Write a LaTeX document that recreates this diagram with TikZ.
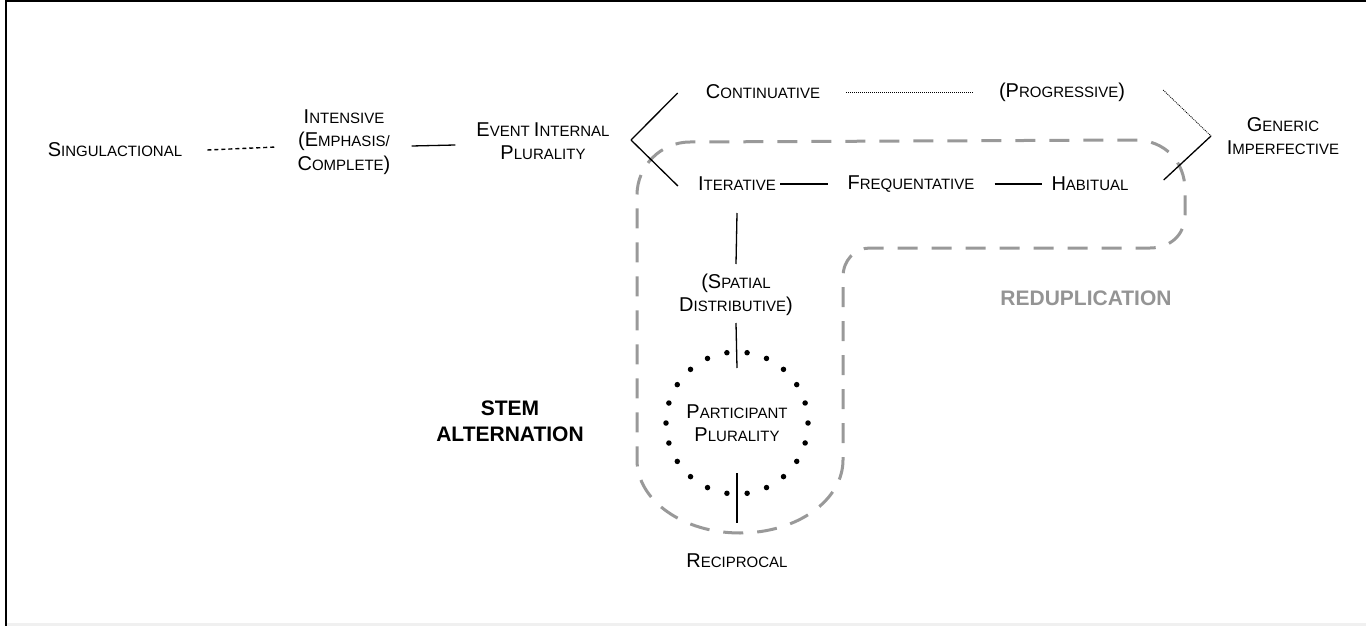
\documentclass[tikz,border=0pt]{standalone}
\usepackage{fontspec}
\setmainfont{Liberation Sans}
\usetikzlibrary{calc}
\definecolor{dgray}{gray}{0.6}
\definecolor{rgray}{gray}{0.58}
\newcommand\B[1]{{\fontsize{20}{23.5}\selectfont #1}}
\begin{document}
\begin{tikzpicture}[x=1pt,y=-1pt,
  lab/.style={inner sep=0pt, align=center, font=\fontsize{15}{23.5}\selectfont},
  conn/.style={line width=1.3pt},
  dashconn/.style={line width=1.4pt, dash pattern=on 4pt off 3pt},
  dotconn/.style={line width=0.8pt, dash pattern=on 1pt off 1pt},
  redup/.style={draw=dgray, line width=3pt, dash pattern=on 20pt off 14pt},
  bigbold/.style={font=\fontsize{21}{26}\selectfont\bfseries, align=center, inner sep=0pt},
  dotcircle/.style={circle, draw, minimum size=142pt, line width=5.5pt, line cap=round, dash pattern=on 0pt off 20.28pt}
]
\useasboundingbox (0,0) rectangle (1366,626);
% frame
\fill[gray!12] (6,623) rectangle (1366,626);
\draw[line width=2pt] (1366,1.5) -- (6,1.5) -- (6,626);

% reduplication region
\draw[redup] (843,460) arc[start angle=0,end angle=180,x radius=103,y radius=73]
  -- (637,195) .. controls (637,166) and (661,142) .. (690,142)
  -- (1135,140) .. controls (1165,140) and (1185,162) .. (1185,190)
  -- (1185,215) .. controls (1185,235) and (1170,248) .. (1150,248)
  -- (870,248) .. controls (855,248) and (843,260) .. (843,277) -- cycle;

% nodes
\node[lab] (sing) at (115,150) {\B{S}INGULACTIONAL};
\node[lab] (inten) at (344,142) {\B{I}NTENSIVE\\\B{(E}MPHASIS/\\\B{C}OMPLETE\B{)}};
\node[lab] (event) at (543,141) {\B{E}VENT \B{I}NTERNAL\\\B{P}LURALITY};
\node[lab] (cont) at (763,92) {\B{C}ONTINUATIVE};
\node[lab] (prog) at (1062,92) {\B{(P}ROGRESSIVE\B{)}};
\node[lab] (gen) at (1283,136) {\B{G}ENERIC\\\B{I}MPERFECTIVE};
\node[lab] (iter) at (737,184) {\B{I}TERATIVE};
\node[lab] (freq) at (911,184) {\B{F}REQUENTATIVE};
\node[lab] (hab) at (1090,184) {\B{H}ABITUAL};
\node[lab] (spat) at (736,295) {\B{(S}PATIAL\\\B{D}ISTRIBUTIVE\B{)}};
\node[lab, dotcircle] (part) at (737,423) {\B{P}ARTICIPANT\\\B{P}LURALITY};
\node[lab] (recip) at (737,561) {\B{R}ECIPROCAL};
\node[bigbold] (stem) at (510,421) {STEM\\ALTERNATION};
\node[bigbold, text=rgray] (redlab) at (1086,298) {REDUPLICATION};

% brackets
\coordinate (lapex) at (631,140);
\coordinate (rapex) at (1211,136);

% connectors
\draw[dashconn] ($(sing.east)+(25,0)$) -- ($(inten.west)+(-21,5)$);
\draw[conn] ($(inten.east)+(21,4)$) -- ($(event.west)+(-21,4)$);
\draw[conn] (lapex) -- ($(cont.west)+(-28,1)$);
\draw[conn] (lapex) -- ($(iter.west)+(-20,2)$);
\draw[dotconn] ($(cont.east)+(26,0)$) -- ($(prog.west)+(-25,0)$);
\draw[dotconn] ($(prog.east)+(38,-2)$) -- (rapex);
\draw[conn] ($(hab.east)+(35,-4)$) -- (rapex);
\draw[conn] ($(iter.east)+(4,0)$) -- ($(freq.west)+(-19,0)$);
\draw[conn] ($(freq.east)+(20,0)$) -- ($(hab.west)+(-9,0)$);
\draw[conn] ($(iter.center)+(0,29)$) -- ($(spat.center)+(0,-31)$);
\draw[conn] ($(spat.center)+(0,28)$) -- ($(part.center)+(0,-55)$);
\draw[conn] ($(part.center)+(0,50)$) -- ($(recip.center)+(0,-38)$);
\end{tikzpicture}
\end{document}
